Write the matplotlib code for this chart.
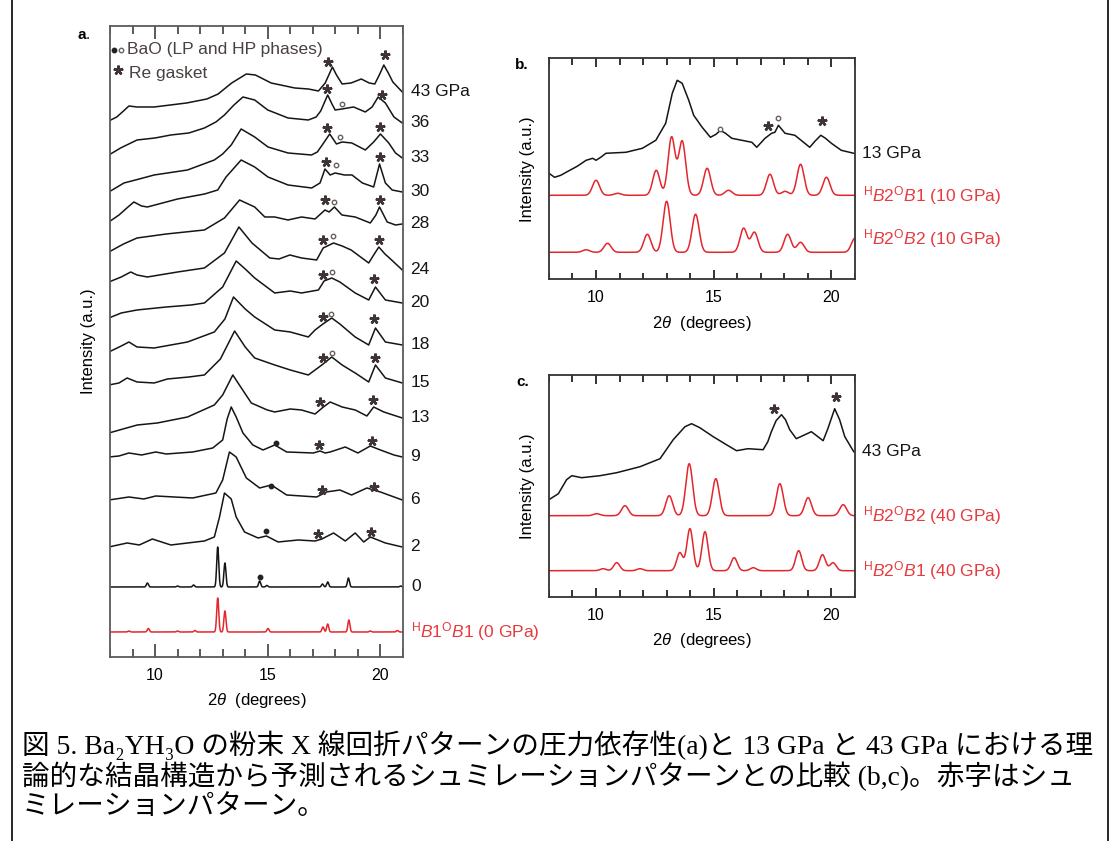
import numpy as np
import matplotlib.pyplot as plt

plt.rcParams['font.family'] = ['Liberation Sans', 'DejaVu Sans']
plt.rcParams['mathtext.fontset'] = 'custom'
plt.rcParams['mathtext.rm'] = 'Liberation Sans'
plt.rcParams['mathtext.it'] = 'Liberation Sans:italic'
plt.rcParams['mathtext.bf'] = 'Liberation Sans:bold'

# %% panel a: measured patterns (2theta in degrees, intensity in a.u., stacked)
x43 = [7.95, 8.3, 8.6, 8.84, 9.2, 9.96, 11.4, 12.3, 12.8, 13.4, 14.05, 14.45, 15.15, 16.2, 16.8, 17.25, 17.55, 17.87, 18.05, 18.3, 18.7, 19.15, 19.5, 19.75, 19.95, 20.15, 20.35, 20.55, 20.97]
y43 = [536, 540, 546, 551, 550, 550, 554, 558, 563, 574, 583, 582, 574, 569, 568, 566, 574, 590, 582, 573, 574, 578, 574, 573, 582, 592, 584, 575, 565]
x36 = [7.95, 8.47, 9.2, 10.0, 10.7, 11.5, 12.19, 12.7, 13.08, 13.5, 13.9, 14.42, 15.0, 15.9, 16.8, 17.15, 17.35, 17.66, 17.85, 17.99, 18.29, 18.81, 19.33, 19.63, 19.9, 20.22, 20.6, 20.97]
y36 = [502, 509, 517, 519, 522, 524, 529, 535, 542, 552, 560, 557, 547, 539, 537, 540, 546, 562, 553, 547, 548, 550, 545, 550, 560, 554, 540, 534]
x33 = [7.95, 8.62, 9.3, 9.96, 11.44, 12.63, 13.0, 13.38, 13.82, 14.42, 15.01, 15.9, 16.94, 17.2, 17.45, 17.75, 18.05, 18.3, 18.73, 19.33, 19.7, 20.0, 20.37, 20.67, 20.97]
y33 = [465, 474, 478, 482, 487, 497, 503, 512, 528, 520, 510, 504, 502, 505, 513, 523, 513, 515, 514, 507, 515, 523, 514, 504, 499]
x30 = [7.95, 8.4, 8.8, 9.06, 9.4, 9.66, 11.0, 12.2, 12.78, 13.15, 13.82, 14.42, 15.01, 15.9, 16.95, 17.32, 17.54, 17.77, 17.99, 18.4, 18.74, 19.2, 19.7, 19.96, 20.22, 20.52, 20.97]
y30 = [435, 442, 450, 455, 451, 450, 458, 463, 467, 480, 497, 490, 480, 472, 469, 474, 488, 482, 484, 482, 482, 474, 470, 493, 474, 467, 465]
x28 = [7.95, 8.6, 9.2, 10.5, 12.19, 13.08, 13.75, 14.42, 14.87, 15.31, 15.9, 16.5, 17.1, 17.54, 17.72, 17.96, 18.29, 18.88, 19.55, 19.8, 19.96, 20.3, 20.67, 20.97]
y28 = [405, 413, 419, 423, 427, 439, 457, 450, 440, 440, 437, 440, 438, 447, 445, 450, 442, 440, 434, 442, 450, 435, 432, 433]
x24 = [7.95, 8.5, 8.92, 9.2, 9.66, 11.0, 12.19, 13.08, 13.72, 14.3, 15.09, 15.5, 15.98, 16.5, 17.17, 17.46, 17.92, 18.3, 18.7, 19.48, 19.7, 19.93, 20.2, 20.4, 20.97]
y24 = [375, 380, 385, 382, 380, 385, 389, 404, 430, 414, 399, 398, 402, 399, 397, 409, 414, 411, 407, 394, 402, 410, 403, 399, 387]
x20 = [7.95, 8.5, 9.2, 10.5, 11.6, 12.19, 13.0, 13.6, 14.0, 14.42, 15.31, 16.0, 16.5, 17.25, 17.5, 17.84, 18.2, 18.88, 19.48, 19.78, 20.22, 20.97]
y20 = [339, 344, 347, 350, 352, 354, 370, 396, 388, 379, 364, 366, 364, 367, 376, 379, 375, 364, 357, 370, 357, 354]
x18 = [7.95, 8.5, 8.84, 9.2, 9.96, 11.44, 12.63, 13.1, 13.48, 14.0, 14.42, 15.31, 16.0, 16.8, 17.1, 17.45, 17.84, 18.2, 18.88, 19.48, 19.78, 20.22, 20.97]
y18 = [305, 311, 315, 310, 309, 315, 325, 338, 360, 348, 340, 327, 325, 320, 327, 333, 339, 333, 320, 312, 329, 315, 312]
x15 = [7.95, 8.4, 8.76, 9.2, 9.96, 10.55, 11.5, 12.19, 12.9, 13.53, 14.0, 14.42, 15.31, 16.0, 16.8, 17.1, 17.4, 17.84, 18.3, 18.88, 19.48, 19.78, 20.22, 20.97]
y15 = [272, 274, 279, 275, 274, 278, 280, 282, 298, 326, 310, 299, 292, 287, 282, 287, 292, 300, 292, 284, 275, 292, 279, 274]
x13 = [7.95, 9.21, 10.1, 11.44, 12.63, 13.0, 13.45, 13.8, 14.27, 14.98, 15.31, 16.0, 16.5, 17.1, 17.47, 17.77, 18.3, 18.88, 19.4, 19.7, 20.15, 20.97]
y13 = [224, 232, 234, 240, 252, 262, 282, 270, 254, 247, 245, 248, 247, 243, 250, 255, 250, 247, 241, 250, 245, 239]
x9 = [7.95, 8.4, 8.84, 9.4, 10.03, 10.5, 11.67, 12.56, 13.0, 13.2, 13.38, 13.6, 13.9, 14.34, 14.79, 15.31, 15.84, 17.02, 17.32, 17.55, 17.77, 18.44, 19.0, 19.55, 20.0, 20.6, 20.97]
y9 = [200, 201, 204, 202, 205, 203, 205, 209, 217, 238, 250, 240, 224, 212, 207, 212, 205, 204, 206, 204, 205, 210, 204, 211, 207, 202, 200]
x6 = [7.95, 8.84, 9.5, 10.03, 11.67, 12.7, 13.0, 13.3, 13.6, 14.05, 14.64, 15.16, 15.84, 17.17, 17.6, 18.2, 18.72, 19.4, 20.0, 20.97]
y6 = [157, 160, 158, 161, 159, 164, 177, 205, 200, 179, 169, 172, 162, 160, 165, 167, 162, 169, 165, 157]
x2 = [7.95, 8.76, 9.3, 9.88, 10.7, 12.19, 12.63, 12.86, 13.08, 13.38, 13.6, 13.97, 14.57, 14.94, 15.46, 16.35, 17.1, 17.4, 17.92, 18.44, 18.88, 19.26, 19.55, 20.22, 20.97]
y2 = [110, 114, 112, 118, 112, 116, 120, 140, 164, 158, 140, 125, 119, 121, 115, 117, 116, 118, 124, 116, 124, 115, 120, 114, 110]

labels_a = ['43 GPa', '36', '33', '30', '28', '24', '20', '18', '15', '13', '9', '6', '2']

# 0 GPa: sharp peaks (position, height above baseline)
base0 = 70
pos0 = [9.66, 11.0, 11.71, 12.78, 13.1, 14.64, 14.96, 17.43, 17.66, 18.58, 20.9]
amp0 = [4, 1, 2, 40, 24, 6, 1.5, 3, 5, 9, 1]
# simulated HB1-OB1 (0 GPa)
base_s0 = 25
pos_s0 = [8.84, 9.7, 11.0, 11.77, 12.78, 13.1, 15.01, 17.45, 17.66, 18.6, 19.55, 20.75]
amp_s0 = [1, 3.5, 1, 1.5, 34, 21, 3.5, 5, 8, 12, 1, 1.5]

# markers in panel a
re_x = [17.69, 20.22, 17.62, 20.07, 17.62, 20.0, 17.59, 20.0, 17.54, 19.97, 17.47, 19.93, 17.47, 19.73,
        17.47, 19.73, 17.43, 19.76, 17.32, 19.67, 17.29, 19.63, 17.4, 19.7, 17.25, 19.58]
re_y = [595, 602, 568, 562, 529, 530, 495, 500, 457, 457, 417, 417, 382, 378,
        340, 338, 299, 299, 255, 257, 212, 216, 167, 170, 123, 125]
hp_x = [18.29, 18.21, 18.04, 17.95, 17.88, 17.84, 17.79, 17.84]
hp_y = [553, 520, 492, 455, 421, 385, 343, 304]
lp_x = [15.36, 15.13, 14.94, 14.64]
lp_y = [214, 171, 126, 80]

# %% panel b: 13 GPa and simulations at 10 GPa
xb13 = [8.0, 8.24, 8.5, 8.73, 9.2, 9.58, 9.86, 10.0, 10.2, 10.42, 11.27, 11.97, 12.54, 12.96, 13.24, 13.45, 13.66, 13.94, 14.15, 14.51, 14.86, 15.1, 15.28, 15.5, 15.77, 16.62, 16.83, 17.18, 17.46, 17.6, 17.75, 18.03, 18.45, 19.08, 19.3, 19.55, 19.75, 20.0, 20.42, 20.95]
yb13 = [106, 102, 104, 107, 113, 119, 121, 119, 122, 126, 127, 131, 139, 156, 186, 199, 196, 179, 164, 152, 142, 145, 149, 146, 141, 137, 132, 141, 146, 147, 154, 146, 144, 132, 138, 144, 141, 136, 129, 126]
base_b1 = 84
pos_b1 = [10.0, 10.92, 12.56, 13.21, 13.66, 14.72, 15.63, 17.39, 18.03, 18.69, 19.79]
amp_b1 = [15, 2, 25, 58, 54, 27, 5, 21, 4, 31, 18]
base_b2 = 27
pos_b2 = [9.58, 10.49, 12.18, 13.0, 14.23, 16.27, 16.73, 18.14, 18.69, 21.0]
amp_b2 = [2.5, 9, 18, 51, 38, 24, 20, 18, 10, 14]
re_bx, re_by = [17.3, 19.6], [153, 158]
hp_bx, hp_by = [15.28, 17.72], [150, 161]

# %% panel c: 43 GPa and simulations at 40 GPa
xc43 = [8.0, 8.4, 8.75, 8.97, 9.39, 10.17, 10.88, 11.87, 12.72, 13.28, 13.78, 14.06, 14.41, 14.98, 15.54, 15.97, 16.46, 17.1, 17.3, 17.45, 17.65, 17.88, 18.05, 18.23, 18.51, 19.15, 19.65, 19.85, 20.14, 20.35, 20.57, 20.95]
yc43 = [97, 103, 117, 121, 119, 121, 124, 130, 138, 157, 170, 173, 169, 160, 152, 146, 148, 147, 155, 165, 176, 182, 177, 167, 158, 165, 156, 168, 188, 177, 160, 145]
base_c2 = 81
pos_c2 = [10.03, 11.23, 13.11, 13.96, 15.09, 17.81, 19.01, 20.5]
amp_c2 = [2, 10, 20, 52, 37, 32, 18, 11]
base_c1 = 26
pos_c1 = [10.3, 10.88, 11.87, 13.56, 13.99, 14.63, 15.87, 16.68, 18.61, 19.62, 20.07]
amp_c1 = [2, 8, 2, 18, 42, 39, 13, 3, 20, 16, 8]
re_cx, re_cy = [17.57, 20.18], [188, 200]

major_ticks = [10, 15, 20]
minor_ticks = [8, 9, 11, 12, 13, 14, 16, 17, 18, 19, 21]

black = '#151515'
red = '#e3262c'
red_txt = '#e63a3f'
mark = '#3e3434'
tt = np.linspace(8, 21, 2601)


def pattern(base, pos, amp, width):
    y = np.full_like(tt, float(base))
    for p, a in zip(pos, amp):
        y += a * np.exp(-0.5 * ((tt - p) / width) ** 2)
    return y


def style_axis(ax, spine_col, majfrac, minfrac):
    # inward ticks on top and bottom spines
    ax.set_xlim(8, 21)
    ax.xaxis.set_major_locator(plt.FixedLocator(major_ticks))
    ax.xaxis.set_minor_locator(plt.NullLocator())
    ax.yaxis.set_major_locator(plt.NullLocator())
    ax.xaxis.set_tick_params(which='major', length=0, labelsize=11.5, pad=8)
    y_lo, y_hi = ax.get_ylim()
    span = y_hi - y_lo
    for ticks, frac in ((major_ticks, majfrac), (minor_ticks, minfrac)):
        for t in ticks:
            ax.plot([t, t], [y_lo, y_lo + frac * span], color=spine_col, lw=1.4, zorder=4,
                    solid_capstyle='butt')
            ax.plot([t, t], [y_hi - frac * span, y_hi], color=spine_col, lw=1.4, zorder=4,
                    solid_capstyle='butt')
    ax.set_ylim(y_lo, y_hi)
    for s in ax.spines.values():
        s.set_color(spine_col)
        s.set_linewidth(1.3)


def put_label(ax, x, y, txt, col):
    ax.annotate(txt, xy=(x[-1], y[-1]), xytext=(6, 0), textcoords='offset points',
                va='center', ha='left', fontsize=12.5, color=col, annotation_clip=False)


def stars(ax, xs, ys):
    ax.plot(xs, ys, ls='none', marker=(5, 2, 0), ms=7, mew=1.8, color=mark, clip_on=False)


fig = plt.figure(figsize=(11.11, 8.41), dpi=100)

# %% panel a
axa = fig.add_axes([0.0990, 0.2188, 0.2637, 0.7503])
xs_a = [x43, x36, x33, x30, x28, x24, x20, x18, x15, x13, x9, x6, x2]
ys_a = [y43, y36, y33, y30, y28, y24, y20, y18, y15, y13, y9, y6, y2]
for xx, yy, lab in zip(xs_a, ys_a, labels_a):
    axa.plot(xx, yy, color=black, lw=1.1)
    put_label(axa, xx, yy, lab, black)
y0 = pattern(base0, pos0, amp0, 0.045)
axa.plot(tt, y0, color=black, lw=1.1)
put_label(axa, tt, y0, '0', black)
ys0 = pattern(base_s0, pos_s0, amp_s0, 0.045)
axa.plot(tt, ys0, color=red, lw=1.1)
put_label(axa, tt, ys0, r'${}^{\rm H}B1{}^{\rm O}B1$ (0 GPa)', red_txt)
stars(axa, re_x, re_y)
axa.plot(hp_x, hp_y, ls='none', marker='o', ms=3.2, mfc='white', mec='#6a6060', mew=1.0)
axa.plot(lp_x, lp_y, ls='none', marker='o', ms=3.2, color='#222222')
# legend of marks
axa.plot([8.17], [607], marker='o', ms=3.2, color='#222222')
axa.plot([8.48], [607], marker='o', ms=3.2, mfc='white', mec='#6a6060', mew=1.0)
axa.text(8.75, 607, 'BaO (LP and HP phases)', va='center', ha='left', fontsize=12.5, color='#4a4040')
stars(axa, [8.35], [587])
axa.text(8.84, 583, 'Re gasket', va='center', ha='left', fontsize=12.5, color='#4a4040')
axa.set_ylim(0, 631)
style_axis(axa, '#5a5a5a', 0.02, 0.012)
axa.set_xlabel(r'2$\theta$  (degrees)', fontsize=12, labelpad=6)
axa.set_ylabel('Intensity (a.u.)', fontsize=12, labelpad=10)
axa.text(-0.11, 0.985, 'a', transform=axa.transAxes, fontsize=11, fontweight='bold', ha='left', va='center')
axa.text(-0.082, 0.985, '.', transform=axa.transAxes, fontsize=11, ha='left', va='center')

# %% panel b
axb = fig.add_axes([0.4941, 0.6679, 0.2754, 0.2628])
axb.plot(xb13, yb13, color=black, lw=1.1)
put_label(axb, xb13, yb13, '13 GPa', black)
yb1 = pattern(base_b1, pos_b1, amp_b1, 0.15)
axb.plot(tt, yb1, color=red, lw=1.1)
put_label(axb, tt, yb1, r'${}^{\rm H}B2{}^{\rm O}B1$ (10 GPa)', red_txt)
yb2 = pattern(base_b2, pos_b2, amp_b2, 0.15)
axb.plot(tt, yb2, color=red, lw=1.1)
put_label(axb, tt, yb2, r'${}^{\rm H}B2{}^{\rm O}B2$ (10 GPa)', red_txt)
stars(axb, re_bx, re_by)
axb.plot(hp_bx, hp_by, ls='none', marker='o', ms=3.2, mfc='white', mec='#6a6060', mew=1.0)
axb.set_ylim(0, 221)
style_axis(axb, '#333333', 0.04, 0.03)
axb.set_xlabel(r'2$\theta$  (degrees)', fontsize=12, labelpad=6)
axb.set_ylabel('Intensity (a.u.)', fontsize=12, labelpad=10)
axb.text(-0.065, 0.97, 'b.', transform=axb.transAxes, fontsize=11, fontweight='bold', ha='right', va='center')

# %% panel c
axc = fig.add_axes([0.4941, 0.2905, 0.2754, 0.2636])
axc.plot(xc43, yc43, color=black, lw=1.1)
put_label(axc, xc43, yc43, '43 GPa', black)
yc2 = pattern(base_c2, pos_c2, amp_c2, 0.145)
axc.plot(tt, yc2, color=red, lw=1.1)
put_label(axc, tt, yc2, r'${}^{\rm H}B2{}^{\rm O}B2$ (40 GPa)', red_txt)
yc1 = pattern(base_c1, pos_c1, amp_c1, 0.13)
axc.plot(tt, yc1, color=red, lw=1.1)
put_label(axc, tt, yc1, r'${}^{\rm H}B2{}^{\rm O}B1$ (40 GPa)', red_txt)
stars(axc, re_cx, re_cy)
axc.set_ylim(0, 221.7)
style_axis(axc, '#333333', 0.04, 0.03)
axc.set_xlabel(r'2$\theta$  (degrees)', fontsize=12, labelpad=6)
axc.set_ylabel('Intensity (a.u.)', fontsize=12, labelpad=10)
axc.text(-0.065, 0.97, 'c.', transform=axc.transAxes, fontsize=11, fontweight='bold', ha='right', va='center')

# %% caption and frame
cap = ['図 5. Ba₂YH₃O の粉末 X 線回折パターンの圧力依存性(a)と 13 GPa と 43 GPa における理',
       '論的な結晶構造から予測されるシュミレーションパターンとの比較 (b,c)。赤字はシュ',
       'ミレーションパターン。']
for i, line in enumerate(cap):
    fig.text(22 / 1111, 1 - (745 + 31.5 * i) / 841, line, fontsize=19.9, va='center', ha='left',
             family=['Liberation Serif', 'Noto Sans CJK JP', 'DejaVu Serif'])
fig.add_artist(plt.Line2D([12 / 1111, 12 / 1111], [0, 1], color='black', lw=1.2))
fig.add_artist(plt.Line2D([1108 / 1111, 1108 / 1111], [0, 1], color='black', lw=1.2))

fig.savefig('out.png', dpi=100)
